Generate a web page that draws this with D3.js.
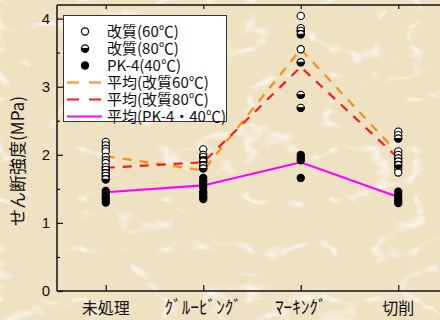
<!DOCTYPE html>
<html>
<head>
<meta charset="utf-8">
<script src="https://cdn.jsdelivr.net/npm/d3@7"></script>
<style>
  html, body { margin: 0; padding: 0; background: #eee0c0; }
  svg { display: block; }
</style>
</head>
<body>
<svg id="chart" width="440" height="320"></svg>
<script>
// Test conditions on the x axis
const categories = ["未処理", "ｸﾞﾙｰﾋﾞﾝｸﾞ", "ﾏｰｷﾝｸﾞ", "切削"];

// Individual shear strength results (MPa) per condition
const kaishitsu60 = [
  [2.19, 2.14, 2.09, 2.05, 1.97, 1.92, 1.88],
  [2.08, 2.00, 1.92, 1.44, 1.38],
  [4.04, 3.86, 3.55],
  [2.34, 2.29, 2.05, 2.00, 1.80, 1.74]
];
const kaishitsu80 = [
  [1.82, 1.78, 1.73, 1.69, 1.64],
  [1.97, 1.90, 1.84, 1.80],
  [3.82, 3.77, 3.36, 2.88, 2.69],
  [2.24, 1.95, 1.90, 1.85]
];
const pk4 = [
  [1.47, 1.42, 1.38, 1.34, 1.30],
  [1.66, 1.61, 1.57, 1.52, 1.46, 1.40, 1.35],
  [2.00, 1.96, 1.92, 1.66],
  [1.46, 1.41, 1.37, 1.33, 1.29]
];

// Averages per condition
const mean60 = [1.98, 1.77, 3.55, 2.02];
const mean80 = [1.81, 1.89, 3.29, 1.95];
const meanPK = [1.45, 1.55, 1.89, 1.38];

const yTicks = [0, 1, 2, 3, 4];
const yMinorTicks = [0.5, 1.5, 2.5, 3.5];
const yTitle = "せん断強度(MPa)";
const legendLabels = ["改質(60℃)", "改質(80℃)", "PK-4(40℃)", "平均(改質60℃)", "平均(改質80℃)", "平均(PK-4・40℃)"];

const svg = d3.select("#chart");
const W = 440, H = 320;
const plot = { left: 57, top: 5, right: 447, bottom: 291 };

// Paper background with fibre texture
const defs = svg.append("defs");
const fib = defs.append("filter").attr("id", "fibres")
  .attr("x", 0).attr("y", 0).attr("width", "100%").attr("height", "100%");
fib.append("feTurbulence").attr("type", "turbulence")
  .attr("baseFrequency", "0.012 0.02").attr("numOctaves", 3).attr("seed", 7).attr("result", "t");
fib.append("feColorMatrix").attr("in", "t").attr("type", "matrix")
  .attr("values", "0 0 0 0 1  0 0 0 0 1  0 0 0 0 1  -7 0 0 0 1.05");
const blot = defs.append("filter").attr("id", "blot")
  .attr("x", 0).attr("y", 0).attr("width", "100%").attr("height", "100%");
blot.append("feTurbulence").attr("type", "fractalNoise")
  .attr("baseFrequency", "0.03").attr("numOctaves", 2).attr("seed", 3).attr("result", "n");
blot.append("feColorMatrix").attr("in", "n").attr("type", "matrix")
  .attr("values", "0 0 0 0 0.85  0 0 0 0 0.72  0 0 0 0 0.45  0 0 0 0.5 -0.18");

svg.append("rect").attr("width", W).attr("height", H).attr("fill", "#efe2c3");
svg.append("rect").attr("width", W).attr("height", H).attr("filter", "url(#blot)").attr("opacity", 0.2);
svg.append("rect").attr("width", W).attr("height", H).attr("filter", "url(#fibres)").attr("opacity", 0.7);

const x = d3.scalePoint().domain(categories).range([plot.left, plot.right]).padding(0.5);
const y = d3.scaleLinear().domain([0, 4.2]).range([plot.bottom, plot.top]);

const ink = "#111";

// Frame lines
svg.append("line").attr("x1", plot.left).attr("x2", plot.left).attr("y1", plot.top).attr("y2", plot.bottom)
  .attr("stroke", ink).attr("stroke-width", 1.5);
svg.append("line").attr("x1", plot.left).attr("x2", plot.right).attr("y1", plot.bottom).attr("y2", plot.bottom)
  .attr("stroke", ink).attr("stroke-width", 1.5);
svg.append("line").attr("x1", plot.left).attr("x2", plot.right).attr("y1", plot.top).attr("y2", plot.top)
  .attr("stroke", ink).attr("stroke-width", 1.5);

// Y axis: inward ticks, labels on the left
const yAxis = d3.axisRight(y).tickValues(yTicks).tickSize(6).tickFormat("");
const yg = svg.append("g").attr("transform", `translate(${plot.left},0)`).call(yAxis);
yg.select(".domain").remove();
yg.selectAll(".tick line").attr("stroke", ink).attr("stroke-width", 1.2);
const yMinor = d3.axisRight(y).tickValues(yMinorTicks).tickSize(3).tickFormat("");
const ym = svg.append("g").attr("transform", `translate(${plot.left},0)`).call(yMinor);
ym.select(".domain").remove();
ym.selectAll(".tick line").attr("stroke", ink).attr("stroke-width", 1.2);

svg.append("g").selectAll("text").data(yTicks).join("text")
  .attr("x", plot.left - 7).attr("y", d => y(d)).attr("dy", "0.36em")
  .attr("text-anchor", "end")
  .attr("font-family", "Liberation Sans, Arial, sans-serif").attr("font-size", 15)
  .attr("fill", ink).text(d => d);

// X axis: inward ticks at bottom and top
const xb = svg.append("g").attr("transform", `translate(0,${plot.bottom})`)
  .call(d3.axisTop(x).tickSize(6).tickFormat(""));
xb.select(".domain").remove();
xb.selectAll(".tick line").attr("stroke", ink).attr("stroke-width", 1.2);
const xt = svg.append("g").attr("transform", `translate(0,${plot.top})`)
  .call(d3.axisBottom(x).tickSize(4).tickFormat(""));
xt.select(".domain").remove();
xt.selectAll(".tick line").attr("stroke", ink).attr("stroke-width", 1.2);

// Half-width katakana labels are set larger and widened, as in a fixed-pitch gothic face
const halfWidth = /[\uFF61-\uFF9F]/;
svg.append("g").selectAll("text").data(categories).join("text")
  .attr("x", d => x(d)).attr("y", 314)
  .attr("text-anchor", "middle")
  .attr("font-family", "Noto Sans CJK JP, sans-serif").attr("font-size", 16)
  .attr("fill", ink)
  .each(function (d) {
    if (halfWidth.test(d)) {
      d3.select(this).attr("font-size", 18)
        .attr("textLength", d.length * 8.6).attr("lengthAdjust", "spacingAndGlyphs");
    }
  })
  .text(d => d);

// Y axis title
svg.append("text")
  .attr("transform", "translate(24,161) rotate(-90)")
  .attr("text-anchor", "middle")
  .attr("font-family", "Noto Sans CJK JP, sans-serif").attr("font-size", 17)
  .attr("fill", ink).text(yTitle);

// Mean lines
const line = d3.line().x((d, i) => x(categories[i])).y(d => y(d));
svg.append("path").datum(mean60).attr("d", line).attr("fill", "none")
  .attr("stroke", "#ff8c1a").attr("stroke-width", 2.2).attr("stroke-dasharray", "9,8");
svg.append("path").datum(mean80).attr("d", line).attr("fill", "none")
  .attr("stroke", "#ff1a1a").attr("stroke-width", 2.2).attr("stroke-dasharray", "9,8");
svg.append("path").datum(meanPK).attr("d", line).attr("fill", "none")
  .attr("stroke", "#ff00ff").attr("stroke-width", 2.2);

// Markers
const r = 3.6;
function flatten(arr) {
  const out = [];
  arr.forEach((vals, i) => vals.forEach(v => out.push({ c: categories[i], v })));
  return out;
}
function openMarker(g, cx, cy) {
  g.append("circle").attr("cx", cx).attr("cy", cy).attr("r", r)
    .attr("fill", "#fff").attr("stroke", "#000").attr("stroke-width", 1.1);
}
function halfMarker(g, cx, cy) {
  g.append("circle").attr("cx", cx).attr("cy", cy).attr("r", r)
    .attr("fill", "#fff").attr("stroke", "#000").attr("stroke-width", 1.1);
  g.append("path")
    .attr("d", `M${cx - r},${cy} A${r},${r} 0 0 0 ${cx + r},${cy} Z`)
    .attr("fill", "#000").attr("stroke", "#000").attr("stroke-width", 1.1);
}
function fullMarker(g, cx, cy) {
  g.append("circle").attr("cx", cx).attr("cy", cy).attr("r", r)
    .attr("fill", "#000").attr("stroke", "#000").attr("stroke-width", 1.1);
}
const pts = svg.append("g");
flatten(kaishitsu60).forEach(d => openMarker(pts, x(d.c), y(d.v)));
flatten(kaishitsu80).forEach(d => halfMarker(pts, x(d.c), y(d.v)));
flatten(pk4).forEach(d => fullMarker(pts, x(d.c), y(d.v)));

// Legend
const lg = svg.append("g");
lg.append("rect").attr("x", 63.5).attr("y", 15.5).attr("width", 163).attr("height", 106)
  .attr("fill", "#fff").attr("stroke", "#333").attr("stroke-width", 1);
const rowY = i => 31.5 + i * 17;
openMarker(lg, 85, rowY(0));
halfMarker(lg, 85, rowY(1));
fullMarker(lg, 85, rowY(2));
const legLine = (i, color, dash) => lg.append("line")
  .attr("x1", 67).attr("x2", 102).attr("y1", rowY(i)).attr("y2", rowY(i))
  .attr("stroke", color).attr("stroke-width", 2.2).attr("stroke-dasharray", dash);
legLine(3, "#ff8c1a", "12,10");
legLine(4, "#ff1a1a", "12,10");
legLine(5, "#ff00ff", null);
lg.selectAll("text.lbl").data(legendLabels).join("text").attr("class", "lbl")
  .attr("x", 107).attr("y", (d, i) => rowY(i)).attr("dy", "0.36em")
  .attr("font-family", "Noto Sans CJK JP, sans-serif").attr("font-size", 15)
  .attr("fill", ink).text(d => d);
</script>
</body>
</html>
